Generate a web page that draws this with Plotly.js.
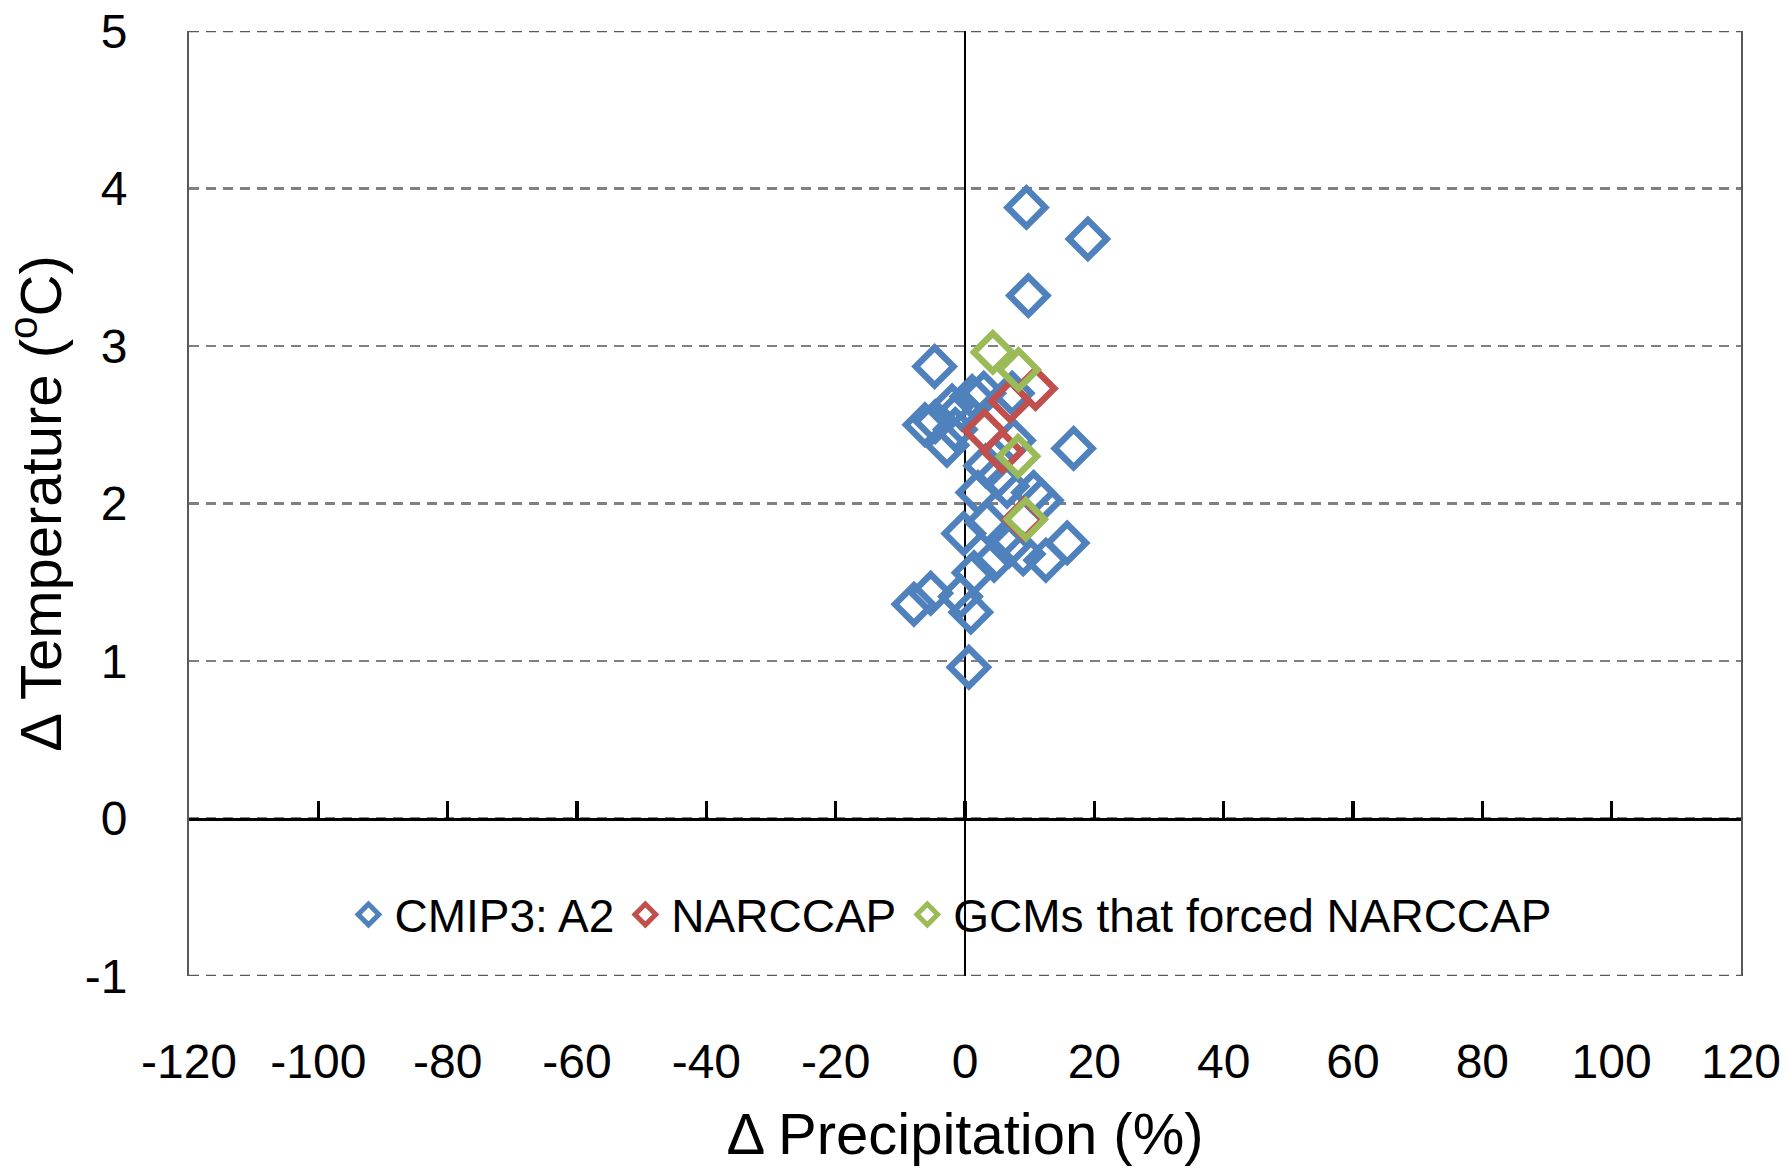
<!DOCTYPE html>
<html>
<head>
<meta charset="utf-8">
<script src="https://cdn.plot.ly/plotly-3.0.1.min.js"></script>
<style>
  html, body { margin: 0; padding: 0; background: #ffffff; }
  #chart { width: 1787px; height: 1174px; }
</style>
</head>
<body>
<div id="chart"></div>
<script>
// ---- Data ----
const seriesNames = ["CMIP3: A2", "NARCCAP", "GCMs that forced NARCCAP"];
const seriesColors = ["#4f81bd", "#c0504d", "#9bbb59"];

const cmipPrecip = [9.5, 19.0, 9.8, -4.7, -4.6, -6.2, -2.0, -0.5, 1.1, 2.9, 7.3,
                    -2.8, -1.5, 7.5, 16.8, 3.2, 5.0, 2.0, 6.5, 10.6, 11.8,
                    -0.2, 3.4, 6.8, 15.8, 12.5, 9.0, 4.5, 1.4,
                    -5.3, -7.9, -0.7, 0.9, 0.6];
const cmipTemp   = [3.88, 3.68, 3.32, 2.87, 2.52, 2.50, 2.62, 2.60, 2.68, 2.70, 2.70,
                    2.37, 2.47, 2.40, 2.35, 2.24, 2.17, 2.07, 2.11, 2.07, 2.02,
                    1.81, 1.88, 1.73, 1.75, 1.64, 1.68, 1.64, 1.56,
                    1.43, 1.36, 1.41, 1.31, 0.96];

const narcPrecip = [10.9, 7.0, 3.0, 5.8, 9.1];
const narcTemp   = [2.73, 2.65, 2.46, 2.33, 1.90];

const gcmPrecip  = [4.3, 8.3, 8.2, 9.4];
const gcmTemp    = [2.96, 2.85, 2.30, 1.90];

const xTickVals = [-120, -100, -80, -60, -40, -20, 0, 20, 40, 60, 80, 100, 120];
const yTickVals = [-1, 0, 1, 2, 3, 4, 5];
const xRange = [-120, 120];
const yRange = [-1, 5];

// ---- Styling ----
const FONT = "Liberation Sans, Arial, sans-serif";
const markerSize = 29;
const markerLine = 6.5;

function series(x, y, i) {
  return {
    type: "scatter", mode: "markers",
    x: x, y: y, name: seriesNames[i],
    xaxis: "x", yaxis: "y",
    marker: {
      symbol: "diamond-open", size: markerSize,
      color: seriesColors[i],
      line: { color: seriesColors[i], width: markerLine }
    },
    hoverinfo: "x+y+name"
  };
}

const traces = [
  series(cmipPrecip, cmipTemp, 0),
  series(narcPrecip, narcTemp, 1),
  series(gcmPrecip, gcmTemp, 2),
  // helper trace so that the tick axis on y = 0 is drawn
  { type: "scatter", mode: "markers", x: [null], y: [null], xaxis: "x2", yaxis: "y",
    showlegend: false, hoverinfo: "skip", marker: { opacity: 0 } }
];

const zeroPos = (0 - yRange[0]) / (yRange[1] - yRange[0]);

const layout = {
  width: 1787, height: 1174,
  paper_bgcolor: "#ffffff", plot_bgcolor: "#ffffff",
  margin: { l: 189, r: 46, t: 31, b: 198, pad: 0 },
  font: { family: FONT, color: "#000000" },
  showlegend: true,
  legend: {
    orientation: "h", x: 0.49, xanchor: "center", y: 0.065, yanchor: "middle",
    font: { family: FONT, size: 46, color: "#000000" },
    bgcolor: "rgba(0,0,0,0)", itemwidth: 42, traceorder: "normal"
  },
  xaxis: {
    range: xRange, tickvals: xTickVals, ticktext: xTickVals.map(String),
    showgrid: false, zeroline: true, zerolinecolor: "#000000", zerolinewidth: 2,
    showline: false, ticks: "", ticklabelstandoff: 53,
    tickfont: { family: FONT, size: 48, color: "#000000" },
    title: { text: "\u0394 Precipitation (%)", font: { family: FONT, size: 58, color: "#000000" }, standoff: 26 },
    automargin: false, fixedrange: true
  },
  xaxis2: {
    overlaying: "x", anchor: "free", position: zeroPos, side: "bottom",
    range: xRange, tickvals: xTickVals, showticklabels: false,
    showgrid: false, zeroline: false,
    showline: true, linecolor: "#000000", linewidth: 3,
    ticks: "inside", ticklen: 17, tickwidth: 3.5, tickcolor: "#000000",
    fixedrange: true
  },
  yaxis: {
    range: yRange, tickvals: yTickVals, ticktext: yTickVals.map(String),
    showgrid: true, gridcolor: "#808080", gridwidth: 2.5, griddash: "10px,7px",
    zeroline: false,
    showline: true, mirror: true, linecolor: "#595959", linewidth: 2,
    ticks: "", ticklabelstandoff: 50,
    tickfont: { family: FONT, size: 48, color: "#000000" },
    title: { text: "\u0394 Temperature (<sup>o</sup>C)", font: { family: FONT, size: 58, color: "#000000" }, standoff: 26 },
    automargin: false, fixedrange: true
  },
  shapes: [
    { type: "line", xref: "paper", yref: "y", x0: 0, x1: 1, y0: yRange[1], y1: yRange[1],
      line: { color: "#595959", width: 2.5, dash: "10px,7px" }, layer: "below" },
    { type: "line", xref: "paper", yref: "y", x0: 0, x1: 1, y0: yRange[0], y1: yRange[0],
      line: { color: "#595959", width: 2.5, dash: "10px,7px" }, layer: "below" }
  ]
};

Plotly.newPlot("chart", traces, layout, { staticPlot: true, displayModeBar: false });
</script>
</body>
</html>
